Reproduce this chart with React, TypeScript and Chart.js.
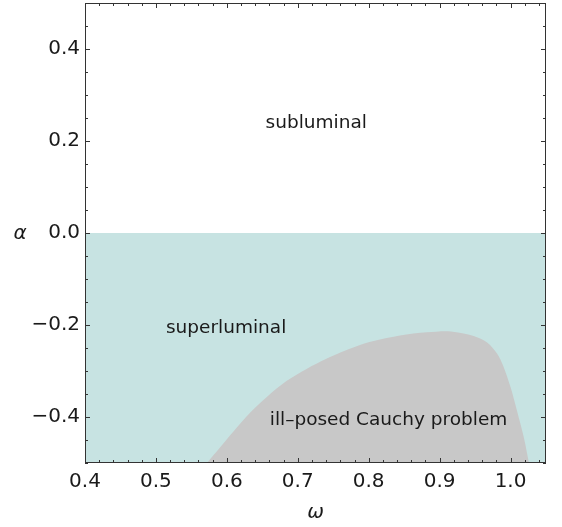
import React, { useEffect, useRef } from "react";
import { Chart, registerables } from "chart.js";

Chart.register(...registerables);

// Boundary of the ill-posed region (omega, alpha)
const boundaryOmega = [0.572, 0.59, 0.609, 0.633, 0.656, 0.684, 0.713, 0.741, 0.76, 0.783, 0.807, 0.844, 0.882, 0.916, 0.948, 0.967, 0.981, 0.99, 1.0, 1.009, 1.019, 1.026];
const boundaryAlpha = [-0.5, -0.467, -0.432, -0.39, -0.357, -0.322, -0.295, -0.273, -0.26, -0.246, -0.235, -0.223, -0.216, -0.214, -0.224, -0.238, -0.262, -0.29, -0.335, -0.386, -0.446, -0.5];

// Superluminal region upper edge
const superOmega = [0.4, 1.05];
const superAlpha = [0, 0];

// Axis ticks
const xTickValues = [0.4, 0.5, 0.6, 0.7, 0.8, 0.9, 1.0];
const yTickValues = [-0.4, -0.2, 0.0, 0.2, 0.4];
const xMinorStep = 0.02;
const yMinorStep = 0.05;

// Region labels
const regionLabels = ["subluminal", "superluminal", "ill\u2013posed Cauchy problem"];
const labelOmega = [0.726, 0.599, 0.828];
const labelAlpha = [0.229, -0.217, -0.417];

const xTitle = "\u03c9";
const yTitle = "\u03b1";

const FONT = "'DejaVu Sans', Verdana, sans-serif";
const TEXT = "#1a1a1a";
const FRAME = "#333333";
const TEAL = "rgb(199,227,226)";
const GREY = "rgb(200,200,200)";

const framePlugin = {
  id: "frameTicks",
  afterDraw(chart: any) {
    const { ctx, chartArea: a, scales } = chart;
    const xs = scales.x;
    const ys = scales.y;
    ctx.save();
    ctx.strokeStyle = FRAME;
    ctx.lineWidth = 1;
    ctx.strokeRect(a.left + 0.5, a.top + 0.5, a.right - a.left - 1, a.bottom - a.top - 1);
    const isMajor = (v: number, list: number[]) => list.some((m) => Math.abs(m - v) < 1e-6);
    ctx.beginPath();
    const nx = Math.floor((xs.max - xs.min) / xMinorStep + 1e-6);
    for (let i = 0; i <= nx; i++) {
      const v = +(xs.min + i * xMinorStep).toFixed(4);
      if (v > xs.max + 1e-9) continue;
      const px = Math.round(xs.getPixelForValue(v)) + 0.5;
      const len = isMajor(v, xTickValues) ? 5 : 3;
      ctx.moveTo(px, a.bottom);
      ctx.lineTo(px, a.bottom - len);
      ctx.moveTo(px, a.top);
      ctx.lineTo(px, a.top + len);
    }
    const ny = Math.floor((ys.max - ys.min) / yMinorStep + 1e-6);
    for (let i = 0; i <= ny; i++) {
      const v = +(ys.min + i * yMinorStep).toFixed(4);
      if (v > ys.max + 1e-9) continue;
      const py = Math.round(ys.getPixelForValue(v)) + 0.5;
      const len = isMajor(v, yTickValues) ? 5 : 3;
      ctx.moveTo(a.left, py);
      ctx.lineTo(a.left + len, py);
      ctx.moveTo(a.right, py);
      ctx.lineTo(a.right - len, py);
    }
    ctx.stroke();

    ctx.fillStyle = TEXT;
    ctx.font = `18.5px ${FONT}`;
    ctx.textAlign = "center";
    ctx.textBaseline = "alphabetic";
    regionLabels.forEach((t, i) => {
      ctx.fillText(t, xs.getPixelForValue(labelOmega[i]), ys.getPixelForValue(labelAlpha[i]));
    });

    ctx.font = `italic 20px ${FONT}`;
    ctx.textBaseline = "middle";
    ctx.fillText(yTitle, a.left - 65, ys.getPixelForValue(0) + 1);
    ctx.fillText(xTitle, (a.left + a.right) / 2, a.bottom + 50);
    ctx.restore();
  },
};

export default function App() {
  const ref = useRef<HTMLCanvasElement | null>(null);
  useEffect(() => {
    if (!ref.current) return;
    const chart = new Chart(ref.current, {
      type: "line",
      data: {
        datasets: [
          {
            label: "ill-posed",
            data: boundaryOmega.map((x, i) => ({ x, y: boundaryAlpha[i] })),
            fill: "start",
            backgroundColor: GREY,
            borderColor: "transparent",
            borderWidth: 0,
            pointRadius: 0,
            tension: 0.3,
          },
          {
            label: "superluminal",
            data: superOmega.map((x, i) => ({ x, y: superAlpha[i] })),
            fill: "start",
            backgroundColor: TEAL,
            borderColor: "transparent",
            borderWidth: 0,
            pointRadius: 0,
          },
        ],
      },
      options: {
        animation: false,
        responsive: true,
        maintainAspectRatio: false,
        layout: { padding: { top: 3, right: 16, left: 0, bottom: 0 } },
        plugins: { legend: { display: false }, tooltip: { enabled: false } },
        scales: {
          x: {
            type: "linear",
            min: 0.4,
            max: 1.05,
            afterBuildTicks: (s: any) => {
              s.ticks = xTickValues.map((v) => ({ value: v }));
            },
            afterFit: (s: any) => {
              s.height = 64;
              s.paddingLeft = 0;
              s.paddingRight = 0;
            },
            grid: { display: false, drawTicks: false },
            border: { display: false },
            ticks: {
              autoSkip: false,
              maxRotation: 0,
              padding: 7,
              color: TEXT,
              font: { family: FONT, size: 20 },
              callback: (v: any) => Number(v).toFixed(1),
            },
          },
          y: {
            type: "linear",
            min: -0.5,
            max: 0.5,
            afterBuildTicks: (s: any) => {
              s.ticks = yTickValues.map((v) => ({ value: v }));
            },
            afterFit: (s: any) => {
              s.width = 85;
              s.paddingTop = 0;
              s.paddingBottom = 0;
            },
            grid: { display: false, drawTicks: false },
            border: { display: false },
            ticks: {
              autoSkip: false,
              padding: 5,
              color: TEXT,
              font: { family: FONT, size: 20 },
              callback: (v: any) => (Number(v) < -1e-9 ? "\u2212" : "") + Math.abs(Number(v)).toFixed(1),
            },
          },
        },
      },
      plugins: [framePlugin],
    });
    return () => chart.destroy();
  }, []);
  return (
    <div style={{ position: "fixed", left: 0, top: 0, width: 562, height: 527, background: "#fff" }}>
      <canvas ref={ref} />
    </div>
  );
}
